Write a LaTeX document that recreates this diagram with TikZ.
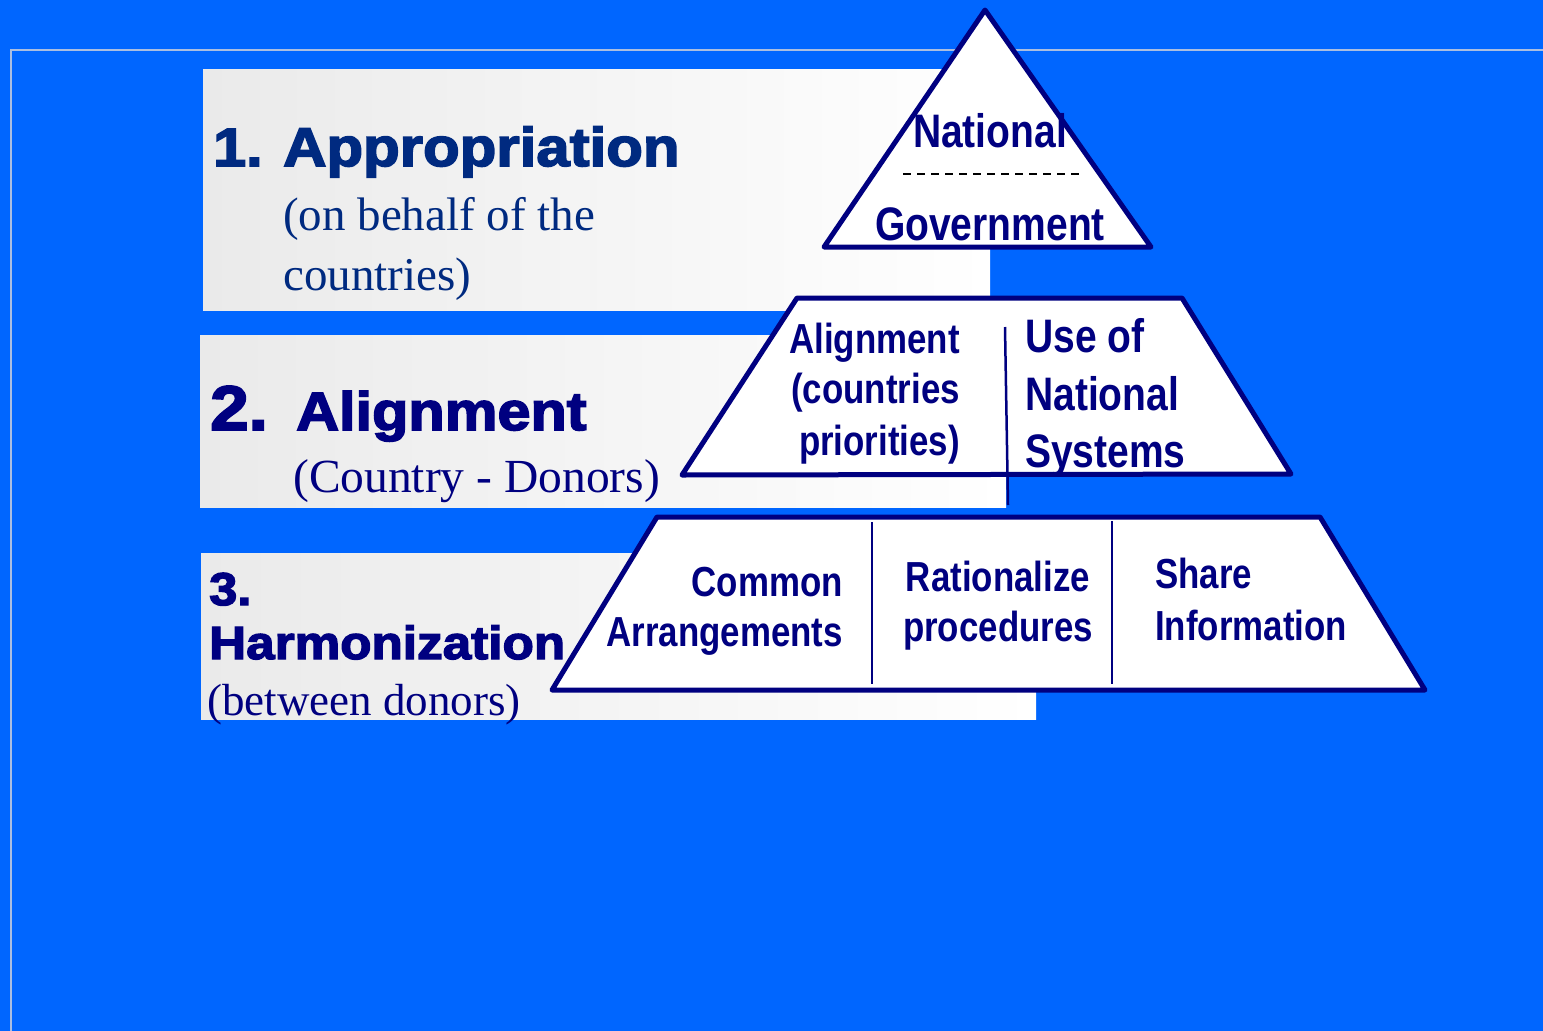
\documentclass[tikz,border=0pt]{standalone}
\usepackage{fontspec}
\setmainfont{Liberation Serif}
\newfontfamily\narrowfont[FakeStretch=0.83]{Liberation Sans}
\newfontfamily\heavyfont[FakeStretch=1.1,FakeBold=3]{Liberation Sans}
\definecolor{bgblue}{RGB}{0,102,255}
\definecolor{framegray}{RGB}{170,190,225}
\definecolor{boxgray}{RGB}{234,234,234}
\definecolor{pnavy}{RGB}{0,0,128}
\definecolor{hblue}{RGB}{0,42,128}
\tikzset{
  panel/.style={left color=boxgray, right color=white, draw=none},
  pyr/.style={draw=pnavy, line width=5pt, fill=white, line join=round},
  divider/.style={draw=pnavy, line width=2.5pt},
  ptext/.style={text=pnavy, inner sep=0pt, font=\narrowfont\bfseries\fontsize{47}{47}\selectfont},
  psmall/.style={text=pnavy, inner sep=0pt, font=\narrowfont\bfseries\fontsize{42}{42}\selectfont},
  heads/.style={inner sep=0pt, anchor=base west},
}
\begin{document}
\begin{tikzpicture}[x=1pt,y=-1pt]
\useasboundingbox (0,0) rectangle (1543,1031);
\fill[bgblue] (0,0) rectangle (1543,1031);
\draw[framegray, line width=1.5pt] (1543,50) -- (11,50) -- (11,1031);
% panels
\shade[panel] (203,69) rectangle (990,310);
\shade[panel] (200,335) rectangle (1006,507);
\shade[panel] (201,553) rectangle (1036,719);
% panel texts
\node[heads, text=hblue, font=\heavyfont\bfseries\fontsize{54}{54}\selectfont] (h1n) at (213,166) {1.};
\node[heads, text=hblue, font=\heavyfont\bfseries\fontsize{54.5}{54.5}\selectfont] (h1) at (283,166) {Appropriation};
\node[heads, text=hblue, font=\fontsize{47}{47}\selectfont] (s1a) at (283,230) {(on behalf of the};
\node[heads, text=hblue, font=\fontsize{47}{47}\selectfont] (s1b) at (283,290) {countries)};
\node[heads, text=pnavy, font=\heavyfont\bfseries\fontsize{63}{63}\selectfont] (h2n) at (210,430) {2.};
\node[heads, text=pnavy, font=\heavyfont\bfseries\fontsize{54}{54}\selectfont] (h2) at (296,430) {Alignment};
\node[heads, text=pnavy, font=\fontsize{47.5}{47.5}\selectfont] (s2) at (293,492) {(Country - Donors)};
\node[heads, text=pnavy, font=\heavyfont\bfseries\fontsize{46}{46}\selectfont] (h3n) at (209,605) {3.};
\node[heads, text=pnavy, font=\heavyfont\bfseries\fontsize{46.6}{46.6}\selectfont] (h3) at (209,659) {Harmonization};
\node[heads, text=pnavy, font=\fontsize{45}{45}\selectfont] (s3) at (207,715) {(between donors)};
% pyramid: top triangle
\path[pyr] (985,10) -- (1151,247) -- (824,247) -- cycle;
\draw[black, line width=1.5pt, dash pattern=on 8pt off 6pt] (903,174) -- (1080,174);
\node[ptext, anchor=base] (nat) at (990,147) {National};
\node[ptext, anchor=base] (gov) at (990,240) {Government};
% middle tier
\path[pyr] (797,298) -- (1182,298) -- (1291,474) -- (682,475) -- cycle;
\draw[divider] (1005,327) -- (1008,505);
\node[psmall, anchor=base east] (al1) at (960,353) {Alignment};
\node[psmall, anchor=base east] (al2) at (960,403) {(countries};
\node[psmall, anchor=base east] (al3) at (960,455) {priorities)};
\node[ptext, anchor=base west] (us1) at (1025,352) {Use of};
\node[ptext, anchor=base west] (us2) at (1025,410) {National};
\node[ptext, anchor=base west] (us3) at (1025,467) {Systems};
% bottom tier
\path[pyr] (657,517) -- (1320,517) -- (1425,690) -- (552,690) -- cycle;
\draw[divider] (872,522) -- (872,684);
\draw[divider] (1112,521) -- (1112,684);
\node[psmall, anchor=base east] (co1) at (843,596) {Common};
\node[psmall, anchor=base east] (co2) at (843,646) {Arrangements};
\node[psmall, anchor=base] (ra1) at (998,591) {Rationalize};
\node[psmall, anchor=base] (ra2) at (998,641) {procedures};
\node[psmall, anchor=base west] (sh1) at (1155,588) {Share};
\node[psmall, anchor=base west] (sh2) at (1155,640) {Information};
\end{tikzpicture}
\end{document}
